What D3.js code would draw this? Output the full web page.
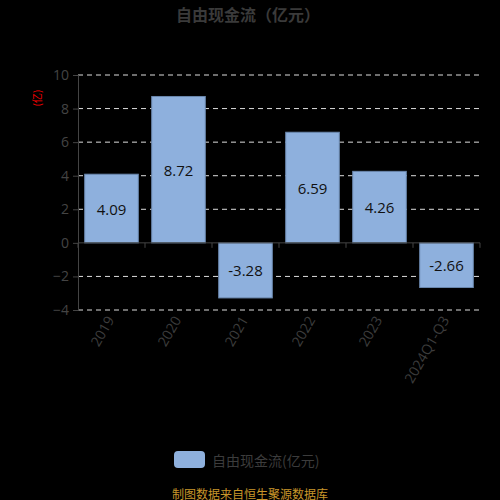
<!DOCTYPE html>
<html>
<head>
<meta charset="utf-8">
<script src="https://cdn.jsdelivr.net/npm/d3@7"></script>
<style>
  body { margin: 0; background: #000; }
  text { font-family: "Open Sans", "Noto Sans CJK SC", sans-serif; }
</style>
</head>
<body>
<svg id="chart"></svg>
<script>
// data
const categories = ["2019", "2020", "2021", "2022", "2023", "2024Q1-Q3"];
const values = [4.09, 8.72, -3.28, 6.59, 4.26, -2.66];
const yTicks = [-4, -2, 0, 2, 4, 6, 8, 10];

const svgWidth = 500;
const svgHeight = 500;
const margin = { top: 75, right: 20, bottom: 190, left: 78 };

const svg = d3.select("#chart")
  .attr("width", svgWidth)
  .attr("height", svgHeight)
  .style("background", "#000");

const xScale = d3.scaleBand()
  .domain(categories)
  .range([margin.left, svgWidth - margin.right])
  .paddingInner(0.2)
  .paddingOuter(0.1);

const yScale = d3.scaleLinear()
  .domain([-4, 10])
  .range([310, 75]);

// title
svg.append("text")
  .attr("x", 248).attr("y", 21)
  .attr("text-anchor", "middle")
  .attr("font-size", 16).attr("font-weight", "bold")
  .attr("fill", "#3a3a3a")
  .style("font-family", "'Noto Sans CJK SC', sans-serif")
  .text("自由现金流（亿元）");

// unit label
svg.append("text")
  .attr("transform", "translate(41,98) rotate(-90)")
  .attr("text-anchor", "middle")
  .attr("font-size", 10)
  .attr("fill", "#ff0000")
  .style("font-family", "'Noto Sans CJK SC', sans-serif")
  .text("(亿)");

// dashed grid
svg.append("g")
  .selectAll("line")
  .data(yTicks.filter(d => d !== 0))
  .enter().append("line")
  .attr("x1", margin.left).attr("x2", svgWidth - margin.right)
  .attr("y1", d => yScale(d)).attr("y2", d => yScale(d))
  .attr("stroke", "#ddd")
  .attr("stroke-dasharray", "5,4");

// y axis
const yAxis = svg.append("g")
  .attr("transform", `translate(${margin.left},0)`)
  .call(d3.axisLeft(yScale).tickValues(yTicks).tickSize(5).tickPadding(4));
yAxis.select(".domain").attr("stroke", "#444");
yAxis.selectAll(".tick line").attr("stroke", "#444");
yAxis.selectAll("text").attr("fill", "#444").attr("font-size", 14);

// bars
svg.selectAll("rect.bar")
  .data(categories)
  .enter().append("rect")
  .attr("class", "bar")
  .attr("x", d => xScale(d))
  .attr("y", (d, i) => yScale(Math.max(0, values[i])))
  .attr("width", xScale.bandwidth())
  .attr("height", (d, i) => Math.abs(yScale(values[i]) - yScale(0)))
  .attr("fill", "#8eb0dd")
  .attr("stroke", "#6a87ad")
  .attr("stroke-width", 1);

// x axis line at zero
svg.append("line")
  .attr("x1", margin.left).attr("x2", svgWidth - margin.right)
  .attr("y1", yScale(0)).attr("y2", yScale(0))
  .attr("stroke", "#444");

// band boundary ticks
const plotW = svgWidth - margin.left - margin.right;
svg.append("g")
  .selectAll("line")
  .data(d3.range(categories.length + 1))
  .enter().append("line")
  .attr("x1", i => margin.left + i * plotW / categories.length)
  .attr("x2", i => margin.left + i * plotW / categories.length)
  .attr("y1", yScale(0)).attr("y2", yScale(0) + 5)
  .attr("stroke", "#444");

// category labels, rotated
svg.append("g")
  .selectAll("text")
  .data(categories)
  .enter().append("text")
  .attr("transform", d => `translate(${xScale(d) + xScale.bandwidth() / 2},${yScale(-4) + 8}) rotate(-60)`)
  .attr("text-anchor", "end")
  .attr("dominant-baseline", "middle")
  .attr("font-size", 14)
  .attr("fill", "#3c3c3c")
  .text(d => d);

// value labels
svg.selectAll("text.val")
  .data(categories)
  .enter().append("text")
  .attr("class", "val")
  .attr("x", d => xScale(d) + xScale.bandwidth() / 2)
  .attr("y", (d, i) => (yScale(values[i]) + yScale(0)) / 2)
  .attr("text-anchor", "middle")
  .attr("dominant-baseline", "central")
  .attr("font-size", 15)
  .attr("fill", "#111")
  .text((d, i) => values[i].toFixed(2));

// legend
svg.append("rect")
  .attr("x", 174).attr("y", 451)
  .attr("width", 31).attr("height", 17)
  .attr("rx", 4)
  .attr("fill", "#8eb0dd");
svg.append("text")
  .attr("x", 212).attr("y", 460)
  .attr("dominant-baseline", "central")
  .attr("font-size", 14)
  .attr("fill", "#3c3c3c")
  .style("font-family", "'Noto Sans CJK SC', sans-serif")
  .text("自由现金流(亿元)");

// source
svg.append("text")
  .attr("x", 250).attr("y", 493)
  .attr("text-anchor", "middle")
  .attr("dominant-baseline", "central")
  .attr("font-size", 12)
  .attr("fill", "#c8962a")
  .style("font-family", "'Noto Sans CJK SC', sans-serif")
  .text("制图数据来自恒生聚源数据库");
</script>
</body>
</html>
